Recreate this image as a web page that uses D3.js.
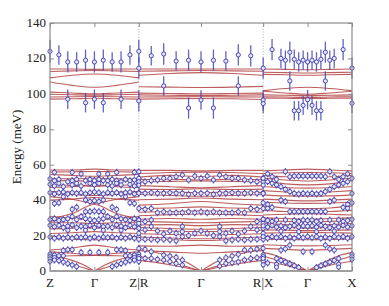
<!DOCTYPE html>
<html>
<head>
<meta charset="utf-8">
<script src="https://cdn.jsdelivr.net/npm/d3@7/dist/d3.min.js"></script>
<style>
  body { margin: 0; background: #fff; }
</style>
</head>
<body>
<svg id="chart" width="389" height="306"></svg>
<script>
/// data ///
// path: Z-Γ-Z | R-Γ-R | X-Γ-X, in path-length units
const segStart = [0, 2, 4.8];
const segEnd = [2, 4.8, 6.8];
const pointStep = [0.1, 0.14, 0.1]; // q spacing of the measured points in each segment
const kTicks = [0, 1, 2, 3.4, 4.8, 5.8, 6.8];
const kLabels = ["Z", "Γ", "Z|R", "Γ", "R|X", "Γ", "X"];
const kBreaks = [2, 4.8];
const yTicks = [0, 20, 40, 60, 80, 100, 120, 140];
const errLow = 2; // error bar (meV) for the points below 60 meV

// calculated branches: energies sampled evenly from one edge of the segment to the other
const branchesZ = [
  [114, 114, 113.8, 114, 114], [112.6, 113, 113.2, 113, 112.6],
  [109, 110.5, 111.2, 110.5, 109], [106.7, 104.8, 103.7, 104.8, 106.7],
  [101, 100.5, 100, 100.5, 101], [99.8, 99.5, 99.3, 99.5, 99.8],
  [98.2, 98.4, 98.5, 98.4, 98.2], [97, 97.2, 97.5, 97.2, 97],
  [57, 57, 57.5, 57, 57], [55.8, 56, 56.2, 56, 55.8], [54.5, 54, 53.5, 54, 54.5],
  [52.2, 52, 52.5, 52, 52.2], [50.8, 51, 50.5, 51, 50.8], [48.8, 48.3, 47.8, 48.3, 48.8],
  [47.2, 47.6, 48.6, 47.6, 47.2], [44.8, 44.5, 44.2, 44.5, 44.8], [43.6, 43.2, 42.6, 43.2, 43.6],
  [42, 40.5, 38.2, 40.5, 42], [40, 40.6, 41.5, 40.6, 40],
  [29.5, 32.5, 37.5, 32.5, 29.5], [28, 30, 33.5, 30, 28], [30.8, 29.8, 28.8, 29.8, 30.8],
  [27.2, 27.2, 26.8, 27.2, 27.2], [25.8, 25.2, 24.2, 25.2, 25.8], [23.8, 24.2, 25.2, 24.2, 23.8],
  [21.2, 21.6, 22.2, 21.6, 21.2], [19.6, 19.2, 18.6, 19.2, 19.6], [18.2, 18, 17.6, 18, 18.2],
  [11.8, 13, 14.6, 13, 11.8], [10.8, 10, 9, 10, 10.8], [8.2, 8.6, 8.8, 8.6, 8.2],
  [8, 7.5, 6, 3.5, 0, 3.5, 6, 7.5, 8], [6.5, 5.6, 3.8, 1.8, 0, 1.8, 3.8, 5.6, 6.5]
];
const branchesR = [
  [114, 114, 114, 114, 114], [112.8, 113, 113.2, 113, 112.8], [110.5, 111.5, 112, 111.5, 110.5],
  [104, 103.8, 103.6, 103.8, 104.2], [100.4, 100.2, 100, 100.2, 100.4], [99.4, 99.2, 99, 99.2, 99.4],
  [98.2, 98.3, 98.4, 98.3, 98.2], [97, 97.2, 97.4, 97.2, 96.8],
  [56.8, 56.8, 56.5, 56.8, 56.8], [55, 55.6, 55.8, 55.6, 55], [53, 54, 53.2, 54, 53],
  [51.6, 51.8, 51.4, 51.8, 51.6], [50.2, 50.6, 50.8, 50.6, 50.2], [48.2, 47.6, 47, 47.6, 48.2],
  [46.2, 46, 46.4, 46, 46.2], [44.4, 44.6, 44.2, 44.6, 44.4], [43.2, 42.6, 42.2, 42.6, 43.2],
  [40.2, 40.6, 41.2, 40.6, 40.2], [37.2, 38, 39.2, 38, 37.2], [35.2, 35.6, 36.2, 35.6, 35.2],
  [33.2, 33.6, 34, 33.6, 33.2], [31.2, 31.8, 32.2, 31.8, 31.2], [29.2, 29.6, 29.2, 29.6, 29.2],
  [28, 27.6, 27.2, 27.6, 28], [26, 26.2, 25.6, 26.2, 26], [24.6, 24, 23.6, 24, 24.6],
  [23, 22.6, 22.2, 22.6, 23], [21, 20.6, 20.2, 20.6, 21], [19.2, 18.6, 18.2, 18.6, 19.2],
  [17.6, 17.6, 17.2, 17.6, 17.6], [14.2, 14, 14.6, 14, 14.2], [11.5, 10.8, 10, 10.8, 11.5],
  [12.8, 10.6, 8.5, 5.2, 0, 5.2, 8.5, 10.6, 12.8], [8.1, 6.8, 5.2, 2.6, 0, 2.6, 5.2, 6.8, 8.1],
  [6, 5, 3.5, 1.8, 0, 1.8, 3.5, 5, 6]
];
const branchesX = [
  [114, 113.8, 113.6, 113.8, 114], [112.2, 112, 111.8, 112, 112.2], [111, 110.8, 110.5, 110.8, 111],
  [101.8, 103, 103.7, 103, 101.8], [101.5, 100.5, 99.8, 100.5, 101.5], [99.4, 99.2, 99, 99.2, 99.4],
  [98.4, 98.2, 98, 98.2, 98.4], [97.6, 97.5, 97.4, 97.5, 97.6],
  [56.5, 57, 57.5, 57, 56.5], [55, 55.5, 55.6, 55.5, 55], [54, 53.2, 53, 53.2, 54],
  [52.4, 51.4, 50.8, 51.4, 52.4], [51, 49.2, 48.6, 49.2, 51], [47.6, 47, 46.8, 47, 47.6],
  [45.4, 44.6, 44, 44.6, 45.4], [43, 42.4, 42.2, 42.4, 43], [40.6, 40, 39.6, 40, 40.6],
  [38.8, 38.4, 38.2, 38.4, 38.8], [36.6, 35.6, 35.2, 35.6, 36.6], [34.2, 33.6, 33.4, 33.6, 34.2],
  [31.6, 32, 32.4, 32, 31.6], [30, 29.6, 29.2, 29.6, 30], [28.4, 28, 27.8, 28, 28.4],
  [26.8, 26.2, 25.8, 26.2, 26.8], [25, 24.6, 24.2, 24.6, 25], [23.2, 23, 22.8, 23, 23.2],
  [21.4, 21.6, 21.8, 21.6, 21.4], [19.8, 19.4, 19.2, 19.4, 19.8], [18, 17.8, 17.6, 17.8, 18],
  [14.8, 14.4, 14.2, 14.4, 14.8], [12.8, 12.2, 11.8, 12.2, 12.8],
  [10.5, 9, 6.5, 3.5, 0, 3.5, 6.5, 9, 10.5], [8.5, 6.6, 4.3, 1.9, 0, 1.9, 4.3, 6.6, 8.5],
  [5.5, 4.5, 3.2, 1.6, 0, 1.6, 3.2, 4.5, 5.5]
];

// measured points above 80 meV: [index along segment, energy, error]
const topZ = [
  [0, 124, 6.5], [2, 122, 5.5], [4, 118, 6], [6, 118, 5.5], [8, 119, 6], [10, 118, 6],
  [12, 119, 6], [14, 118, 5.5], [16, 118, 6], [18, 122, 5.5], [20, 124, 6.5], [20, 114.5, 6],
  [4, 97, 5.5], [8, 95, 5.5], [10, 97, 5.5], [12, 95, 5.5], [16, 97, 5.5], [20, 96, 6]
];
const topR = [
  [2, 121.5, 5.5], [4, 122.5, 6], [6, 118.5, 5.5], [8, 119, 6], [10, 118, 6], [12, 119, 6],
  [14, 118.5, 5.5], [16, 122, 6], [18, 121.5, 6], [20, 114.5, 6], [4, 104.5, 5.5], [16, 104.5, 5.5],
  [8, 92, 6], [10, 96.5, 5.5], [12, 92, 6], [20, 96.5, 5.5], [20, 94.5, 5.5]
];
const topX = [
  [2, 125, 6], [4, 120, 5.5], [5, 119, 5.5], [6, 123.5, 6], [7, 119.5, 5.5], [8, 118, 5.5],
  [9, 119, 5.5], [10, 118, 5.5], [11, 119, 5.5], [12, 118, 5.5], [13, 119.5, 5.5], [14, 123.5, 6],
  [15, 119, 5.5], [16, 120, 5.5], [18, 125, 6], [20, 114.5, 6], [6, 107.3, 5.5], [14, 107.3, 5.5],
  [7, 90.5, 5.5], [8, 90.5, 5.5], [9, 93.5, 5.5], [10, 96.7, 5.5], [11, 93.5, 5.5], [12, 90.5, 5.5],
  [13, 90.5, 5.5], [20, 94.7, 5.5]
];

// measured points below 60 meV: [index along segment, energy]
const lowZ = [
  [1, 55.7], [5, 55.7], [7, 54.8], [11, 54.8], [13, 54.8], [15, 55.7], [19, 55.7], [20, 56],
  [0, 52], [1, 51], [2, 51.7], [4, 50.4], [5, 51], [6, 51.7], [8, 51], [9, 51.7], [10, 51], [11, 51.7],
  [12, 51], [13, 51], [14, 51.7], [15, 51], [16, 50.4], [17, 51.7], [18, 51], [19, 51.4], [20, 52],
  [0, 48.9], [1, 48], [2, 49.5], [3, 47.6], [5, 48.6], [6, 49.5], [7, 48], [9, 49.5], [10, 48.6],
  [11, 49.5], [13, 48.6], [14, 48], [15, 49.5], [16, 48.6], [18, 48.9], [19, 48], [20, 49.5],
  [0, 44.2], [1, 43.5], [2, 44.2], [3, 44.6], [4, 43.5], [5, 44.2], [6, 43.8], [7, 44.2], [8, 43.5],
  [9, 44.2], [10, 44.6], [11, 44.2], [12, 43.5], [13, 44.2], [14, 43.8], [15, 44.2], [16, 43.5],
  [17, 44.2], [18, 44.6], [19, 43.5], [20, 44.2], [3, 41.9], [17, 41.9],
  [1, 38.1], [2, 38.5], [8, 40.1], [9, 39.2], [10, 39.7], [11, 39.2], [12, 40.1], [18, 38.5], [19, 38.1],
  [5, 34.8], [6, 36], [8, 33.5], [9, 33.5], [10, 33.8], [11, 33.5], [12, 33.5], [14, 36], [15, 34.8],
  [0, 29], [1, 29.5], [2, 28.5], [3, 29], [4, 29.5], [5, 30.7], [6, 29], [7, 30.7], [8, 29.5], [9, 29],
  [10, 28.5], [11, 29], [12, 29.5], [13, 30.7], [14, 29], [15, 30.7], [16, 29.5], [17, 29], [18, 28.5],
  [19, 29.5], [20, 29],
  [0, 25.8], [1, 25], [2, 25.8], [3, 24.5], [4, 25.3], [5, 26], [6, 24.5], [7, 25.3], [8, 25], [9, 25.8],
  [10, 24.5], [11, 25.8], [12, 25], [13, 25.3], [14, 24.5], [15, 26], [16, 25.3], [17, 24.5], [18, 25.8],
  [19, 25], [20, 25.8], [4, 23], [8, 23], [12, 23], [16, 23],
  [0, 19.2], [1, 18.5], [2, 19.2], [3, 18.5], [4, 19], [5, 18.5], [6, 19.2], [7, 18.8], [8, 19.2],
  [9, 18.5], [10, 19.2], [11, 18.5], [12, 19.2], [13, 18.8], [14, 19.2], [15, 18.5], [16, 19],
  [17, 18.5], [18, 19.2], [19, 18.5], [20, 19.2],
  [3, 11.5], [4, 12], [5, 12], [7, 10.5], [9, 10.5], [11, 10.5], [13, 10.5], [15, 12], [16, 12], [17, 11.5],
  [0, 9.5], [0, 8.2], [0, 6.9], [0, 5.4], [1, 9], [1, 7.6], [1, 6.2], [2, 8.6], [2, 5.8], [3, 8.6],
  [3, 5], [4, 4.2], [5, 3.4], [6, 2.5], [14, 2.5], [15, 3.4], [16, 4.2], [17, 8.6], [17, 5], [18, 8.6],
  [18, 5.8], [19, 9], [19, 7.6], [19, 6.2], [20, 9.5], [20, 8.2], [20, 6.9], [20, 5.4]
];
const lowR = [
  [0, 52.3], [0, 50.4], [1, 50.4], [2, 51], [3, 51.4], [4, 52.3], [5, 52.3], [6, 53.2], [7, 54.2],
  [8, 51.4], [9, 53.6], [10, 52.3], [11, 53.6], [12, 51.4], [13, 54.2], [14, 53.2], [15, 52.3],
  [16, 52.3], [17, 51.4], [18, 51], [19, 50.4], [20, 50.4], [20, 52.3], [0, 48.5], [20, 48.5],
  [0, 43.9], [1, 43.9], [2, 44.2], [3, 43.9], [4, 43.9], [5, 44.2], [6, 43.9], [7, 43.9], [8, 43.3],
  [9, 43.9], [10, 43.9], [11, 43.9], [12, 43.3], [13, 43.9], [14, 43.9], [15, 44.2], [16, 43.9],
  [17, 43.9], [18, 44.2], [19, 43.9], [20, 43.9],
  [0, 35.3], [1, 34.8], [2, 35.3], [3, 32.9], [4, 33.4], [5, 32.9], [6, 32.9], [7, 32.9], [8, 33.4],
  [9, 32.9], [10, 33.4], [11, 32.9], [12, 33.4], [13, 32.9], [14, 32.9], [15, 32.9], [16, 33.4],
  [17, 32.9], [18, 35.3], [19, 34.8], [20, 35.3],
  [0, 28.8], [0, 26.9], [1, 27.9], [2, 28.8], [19, 27.9], [20, 28.8], [20, 26.9],
  [0, 24.1], [0, 21.3], [1, 23.2], [2, 25.1], [3, 22.6], [4, 20.9], [5, 22.6], [6, 21.3], [7, 25.1],
  [7, 22.2], [8, 20], [9, 21.3], [10, 22.6], [11, 21.3], [12, 20], [13, 22.2], [13, 25.1], [14, 21.3],
  [15, 22.6], [16, 20.9], [17, 22.6], [18, 25.1], [19, 23.2], [20, 24.1], [20, 21.3],
  [0, 17.9], [1, 17.9], [2, 17.9], [3, 17.5], [4, 17.9], [5, 17.5], [6, 17], [7, 19.4], [13, 19.4],
  [14, 17], [15, 17.5], [16, 17.9], [17, 17.5], [18, 17.9], [19, 17.9], [20, 17.9],
  [0, 12.7], [1, 12.2], [2, 10.9], [17, 11.8], [18, 11.8], [19, 12.4], [20, 12.8],
  [0, 8.1], [0, 7.1], [1, 7.1], [2, 7.1], [3, 6.6], [4, 9], [4, 6.2], [5, 8.4], [5, 5.3], [6, 7.7],
  [6, 4.3], [7, 6.2], [7, 3.4], [13, 6.2], [13, 2.8], [14, 7.5], [14, 4.3], [15, 8.5], [15, 4.7],
  [16, 9.4], [16, 5.1], [17, 6.2], [18, 7], [19, 7.5], [20, 8.1], [20, 6.6], [20, 5.6]
];
const lowX = [
  [5, 56.1], [15, 56.1], [1, 54.8], [19, 54.8],
  [0, 52.3], [2, 53.2], [3, 51.7], [6, 53.2], [7, 53.6], [8, 53.6], [9, 53.6], [10, 53.6], [11, 53.6],
  [12, 53.6], [13, 53.6], [14, 53.2], [16, 53.2], [17, 51.7], [18, 53.2], [20, 52.3],
  [1, 50.4], [2, 49.5], [3, 48.6], [4, 47.6], [5, 46.1], [6, 44.8], [14, 44.8], [15, 46.1], [16, 47.6],
  [17, 48.6], [18, 49.5], [19, 50.4],
  [0, 43.8], [7, 43.8], [8, 43.5], [9, 43.8], [10, 43.5], [11, 43.8], [12, 43.5], [13, 43.8], [20, 43.8],
  [0, 38.5], [1, 37.6], [4, 40], [5, 39.2], [15, 39.2], [16, 40], [19, 37.6], [20, 38.5],
  [1, 35.4], [2, 35.9], [6, 33.5], [7, 33.5], [8, 33.5], [9, 33.5], [10, 33.5], [11, 33.5], [12, 33.5],
  [13, 33.5], [14, 33.5], [18, 35.9], [19, 35.4],
  [0, 29.2], [1, 28.5], [2, 28], [3, 28.8], [5, 28.8], [7, 28.5], [8, 28], [9, 28.8], [10, 28.5],
  [11, 28.8], [12, 28], [13, 28.5], [15, 28.8], [17, 28.8], [18, 28], [19, 28.5], [20, 29.2],
  [0, 25.5], [1, 24.8], [2, 25.8], [3, 24.8], [4, 25.5], [5, 24.5], [6, 25.2], [7, 25.8], [8, 24.8],
  [9, 25.5], [10, 25.2], [11, 25.5], [12, 24.8], [13, 25.8], [14, 25.2], [15, 24.5], [16, 25.5],
  [17, 24.8], [18, 25.8], [19, 24.8], [20, 25.5], [4, 22.5], [8, 22.2], [12, 22.2], [16, 22.5],
  [0, 19.4], [1, 18.5], [2, 19.4], [3, 18.8], [4, 19.4], [5, 18.5], [6, 19.2], [7, 18.5], [8, 19.4],
  [9, 18.8], [10, 19.4], [11, 18.8], [12, 19.4], [13, 18.5], [14, 19.2], [15, 18.5], [16, 19.4],
  [17, 18.8], [18, 19.4], [19, 18.5], [20, 19.4],
  [4, 11.8], [5, 12.5], [6, 14.6], [9, 10.9], [11, 10.9], [14, 14.6], [15, 12.5], [16, 11.8],
  [3, 7], [4, 6], [5, 5], [6, 4], [7, 3], [8, 2], [12, 2], [13, 3], [14, 4], [15, 5], [16, 6], [17, 7],
  [0, 9.1], [0, 8.1], [0, 7.1], [0, 3.5], [1, 4.5], [3, 3.8], [3, 2.2], [17, 3.8], [17, 2.2],
  [20, 9.4], [20, 8.1], [20, 6.6]
];

const branches = [branchesZ, branchesR, branchesX];
const topPoints = [topZ, topR, topX];
const lowPoints = [lowZ, lowR, lowX];

/// constants ///
const width = 389;
const height = 306;
const margin = {top: 23, right: 37, bottom: 35, left: 50};
const serif = "'Liberation Serif', 'Times New Roman', serif";

const svg = d3.select("#chart");

/// scales ///
const xScale = d3.scaleLinear()
  .domain([0, 6.8])
  .range([margin.left, width - margin.right]);
const yScale = d3.scaleLinear()
  .domain([0, 140])
  .range([height - margin.bottom, margin.top]);

const plotLeft = margin.left, plotRight = width - margin.right;
const plotTop = margin.top, plotBottom = height - margin.bottom;

// dotted separators between the three paths
svg.append("g")
  .selectAll("line")
  .data(kBreaks)
  .join("line")
    .attr("x1", d => xScale(d)).attr("x2", d => xScale(d))
    .attr("y1", plotTop).attr("y2", plotBottom)
    .attr("stroke", "#b8b8b8")
    .attr("stroke-width", 1)
    .attr("stroke-dasharray", "1.2,1.6");

/// branches ///
const line = d3.line()
  .x(d => xScale(d[0]))
  .y(d => yScale(d[1]))
  .curve(d3.curveMonotoneX);

const branchPaths = [];
branches.forEach((list, s) => {
  const span = segEnd[s] - segStart[s];
  list.forEach(b => {
    const pts = b.map((e, i) => [segStart[s] + span * i / (b.length - 1), e]);
    const mid = (b.length - 1) / 2;
    // acoustic branches go to zero at Γ with a cusp, so draw the halves apart
    if (b[mid] === 0) {
      branchPaths.push(pts.slice(0, mid + 1));
      branchPaths.push(pts.slice(mid));
    } else {
      branchPaths.push(pts);
    }
  });
});

svg.append("clipPath").attr("id", "plot-clip")
  .append("rect")
    .attr("x", plotLeft).attr("y", plotTop)
    .attr("width", plotRight - plotLeft).attr("height", plotBottom - plotTop);

svg.append("g")
  .attr("clip-path", "url(#plot-clip)")
  .selectAll("path")
  .data(branchPaths)
  .join("path")
    .attr("d", line)
    .attr("fill", "none")
    .attr("stroke", "#ad3535")
    .attr("stroke-opacity", 0.8)
    .attr("stroke-width", 1.1);

/// measured points ///
const allPoints = [];
[0, 1, 2].forEach(s => {
  topPoints[s].forEach(p => allPoints.push({q: segStart[s] + p[0] * pointStep[s], e: p[1], err: p[2]}));
  lowPoints[s].forEach(p => allPoints.push({q: segStart[s] + p[0] * pointStep[s], e: p[1], err: errLow}));
});

const pts = svg.append("g");
pts.selectAll("line")
  .data(allPoints)
  .join("line")
    .attr("x1", d => xScale(d.q)).attr("x2", d => xScale(d.q))
    .attr("y1", d => yScale(d.e - d.err)).attr("y2", d => yScale(d.e + d.err))
    .attr("stroke", "#4848b8")
    .attr("stroke-opacity", 0.85)
    .attr("stroke-width", 1.3);
pts.selectAll("circle")
  .data(allPoints)
  .join("circle")
    .attr("cx", d => xScale(d.q))
    .attr("cy", d => yScale(d.e))
    .attr("r", 2.1)
    .attr("fill", "#e8e8f7")
    .attr("stroke", "#3a3ab0")
    .attr("stroke-width", 0.9);

/// axes ///
svg.append("rect")
  .attr("x", plotLeft).attr("y", plotTop)
  .attr("width", plotRight - plotLeft).attr("height", plotBottom - plotTop)
  .attr("fill", "none")
  .attr("stroke", "#8c8c8c")
  .attr("stroke-width", 1.2);

const grayTicks = g => g.call(g => g.select(".domain").remove())
  .call(g => g.selectAll(".tick line").attr("stroke", "#8c8c8c"));

svg.append("g")
  .attr("transform", `translate(${plotLeft}, 0)`)
  .call(d3.axisRight(yScale).tickValues(yTicks).tickSize(4).tickFormat(""))
  .call(grayTicks);
svg.append("g")
  .attr("transform", `translate(${plotRight}, 0)`)
  .call(d3.axisLeft(yScale).tickValues(yTicks).tickSize(4).tickFormat(""))
  .call(grayTicks);
svg.append("g")
  .attr("transform", `translate(0, ${plotTop})`)
  .call(d3.axisBottom(xScale).tickValues(kTicks).tickSize(4).tickFormat(""))
  .call(grayTicks);
svg.append("g")
  .attr("transform", `translate(0, ${plotBottom})`)
  .call(d3.axisTop(xScale).tickValues(kTicks).tickSize(4).tickFormat(""))
  .call(grayTicks);

// bottom spine drawn a bit heavier, as in the original
svg.append("line")
  .attr("x1", plotLeft).attr("x2", plotRight)
  .attr("y1", plotBottom).attr("y2", plotBottom)
  .attr("stroke", "#a0a0a0")
  .attr("stroke-width", 1.8);

// tick labels
svg.append("g")
  .selectAll("text")
  .data(yTicks)
  .join("text")
    .attr("x", plotLeft - 4)
    .attr("y", d => yScale(d) + 4)
    .attr("text-anchor", "end")
    .attr("font-family", serif)
    .attr("font-size", 13)
    .attr("fill", "#222")
    .text(d => d);

svg.append("g")
  .selectAll("text")
  .data(kTicks)
  .join("text")
    .attr("x", d => xScale(d))
    .attr("y", plotBottom + 16)
    .attr("text-anchor", "middle")
    .attr("font-family", serif)
    .attr("font-size", 13)
    .attr("fill", "#222")
    .text((d, i) => kLabels[i]);

svg.append("text")
  .attr("transform", `translate(21, ${(plotTop + plotBottom) / 2}) rotate(-90)`)
  .attr("text-anchor", "middle")
  .attr("font-family", serif)
  .attr("font-size", 13)
  .attr("fill", "#222")
  .text("Energy (meV)");
</script>
</body>
</html>
